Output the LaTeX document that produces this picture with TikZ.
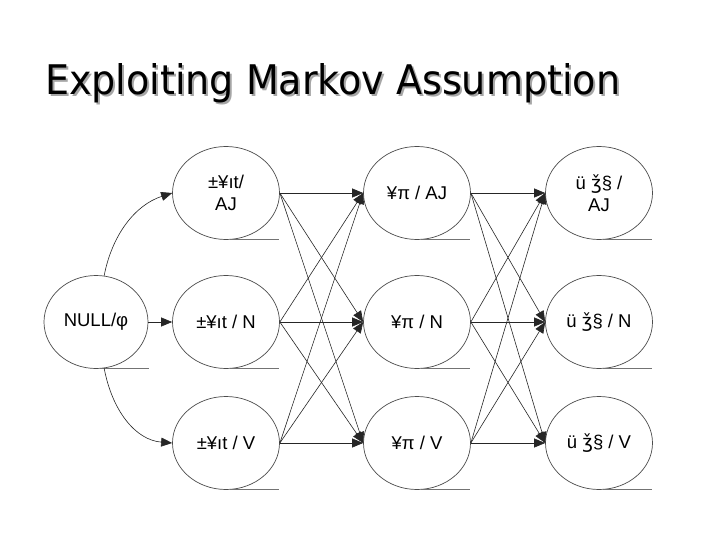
\documentclass[tikz,border=0pt]{standalone}
\usepackage{fontspec}
\setmainfont{Liberation Sans}
\newfontfamily\titlefont{DejaVu Sans Condensed}
\newfontfamily\djv{DejaVu Sans}
\usetikzlibrary{arrows.meta,shapes.geometric}
\newcommand{\ttltext}{\resizebox{575pt}{31pt}{\titlefont Exploiting Markov Assumption}}
\begin{document}
\begin{tikzpicture}[x=1pt,y=-1pt,
  st/.style={draw=black!70, line width=0.7pt, ellipse, minimum width=107pt, minimum height=93pt, inner sep=0pt, align=center, font=\fontsize{18.5}{22}\selectfont},
  conn/.style={draw=black!85, line width=0.6pt, -{Triangle[length=11pt,width=9pt]}},
  uline/.style={draw=black!55, line width=0.8pt},
  ttl/.style={anchor=base west, inner sep=0pt}]
\useasboundingbox (0,0) rectangle (720,540);
\fill[white] (0,0) rectangle (720,540);
% title with shadow
\node[ttl] (title) at (45,95) {\rlap{\hspace{2pt}\raisebox{-2pt}{\color{black!35}\ttltext}}\ttltext};
% nodes
\node[st, minimum width=104pt] (null) at (96,322) {NULL/φ};
\node[st] (a1) at (226,193) {±¥ıt/\\AJ};
\node[st] (a2) at (226,322) {±¥ıt / N};
\node[st] (a3) at (226,443) {±¥ıt / V};
\node[st] (b1) at (417,193) {¥π / AJ};
\node[st] (b2) at (417,322) {¥π / N};
\node[st] (b3) at (417,443) {¥π / V};
\node[st] (c1) at (599,193) {ü {\djv ǯ}§ /\\AJ};
\node[st] (c2) at (599,322) {ü {\djv ǯ}§ / N};
\node[st] (c3) at (599,443) {ü {\djv ǯ}§ / V};
% underlines
\foreach \n in {null,a1,a2,a3,b1,b2,b3,c1,c2,c3}
  \draw[uline] ([xshift=4pt]\n.south) -- ++(49,0);
% connectors from NULL
\draw[conn] (null.80) .. controls (112,235) and (135,205) .. (a1.west);
\draw[conn] (null.east) -- (a2.west);
\draw[conn] (null.-80) .. controls (112,410) and (135,440) .. (a3.west);
% full connections
\foreach \s in {a1,a2,a3}
  \foreach \t in {b1,b2,b3}
    \draw[conn] (\s.east) -- (\t.west);
\foreach \s in {b1,b2,b3}
  \foreach \t in {c1,c2,c3}
    \draw[conn] (\s.east) -- (\t.west);
\end{tikzpicture}
\end{document}
